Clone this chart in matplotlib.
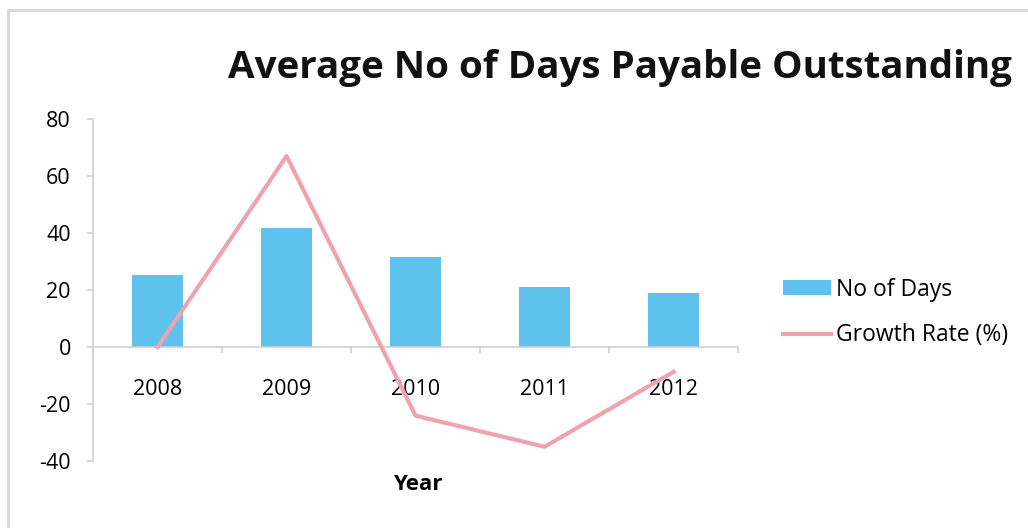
import numpy as np
import matplotlib.pyplot as plt
from matplotlib.patches import Rectangle

# Datos del gráfico
anios = ["2008", "2009", "2010", "2011", "2012"]
dias = [25.3, 41.8, 31.7, 20.9, 19.1]
crecimiento = [0.0, 67.0, -24.1, -35.0, -8.7]

COLOR_BARRA = "#5EC2EC"
COLOR_LINEA = "#EFA3AE"
COLOR_EJE = "#D0D0D0"

plt.rcParams["font.family"] = ["Open Sans", "DejaVu Sans"]
plt.rcParams["axes.unicode_minus"] = False

fig = plt.figure(figsize=(10.28, 5.28), dpi=100)
ax = fig.add_axes([0.0905, 0.1269, 0.6275, 0.6477])

x = np.arange(len(anios))
barras = ax.bar(x, dias, width=0.4, color=COLOR_BARRA, label="No of Days", zorder=2)
(linea,) = ax.plot(x, crecimiento, color=COLOR_LINEA, lw=3, label="Growth Rate (%)", zorder=3)

ax.set_xlim(-0.5, len(anios) - 0.5)
ax.set_ylim(-40, 80)
ax.set_yticks(np.arange(-40, 81, 20))

# ejes estilo Excel
for lado in ["top", "right"]:
    ax.spines[lado].set_visible(False)
ax.spines["bottom"].set_position(("data", 0))
ax.spines["bottom"].set_color(COLOR_EJE)
ax.spines["left"].set_color(COLOR_EJE)
ax.spines["bottom"].set_linewidth(1.2)
ax.spines["left"].set_linewidth(1.2)

ax.set_xticks(x)
ax.set_xticklabels(anios)
ax.set_xticks(np.arange(-0.5, len(anios), 1.0), minor=True)
ax.tick_params(axis="x", which="major", length=0, pad=23, labelsize=15.5)
ax.tick_params(axis="x", which="minor", length=4, width=1.2, color=COLOR_EJE, direction="out")
ax.tick_params(axis="y", length=4, width=1.2, color=COLOR_EJE, pad=12, labelsize=15.5)

fig.text(418 / 1028, 1 - 484 / 528, "Year", ha="center", va="center",
         fontsize=16, fontweight="bold")

fig.text(1012 / 1028, 1 - 78 / 528, "Average No of Days Payable Outstanding",
         ha="right", va="baseline", fontsize=27.7, fontweight="bold", color="#111111")

fig.legend([barras, linea], ["No of Days", "Growth Rate (%)"],
           loc="upper left", bbox_to_anchor=(762 / 1028, 1 - 257 / 528),
           frameon=False, fontsize=16.5, handlelength=2.1, handleheight=0.65,
           handletextpad=0.25, labelspacing=0.95)

# marco del área del gráfico
fig.patches.append(Rectangle((8 / 1028, -0.05), 1.2, 1 - 10 / 528 + 0.05,
                             transform=fig.transFigure, fill=False,
                             edgecolor="#D6D6D6", lw=2))

fig.savefig("out.png", dpi=100)
